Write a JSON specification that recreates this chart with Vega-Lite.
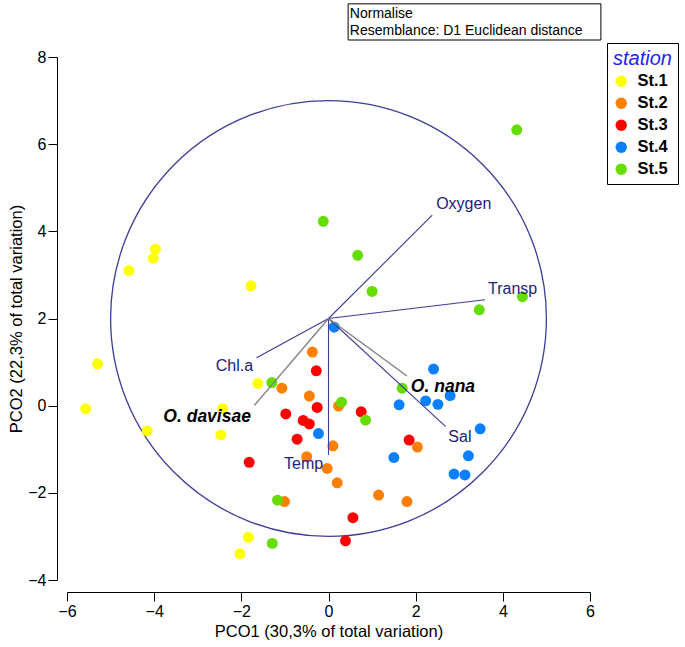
{
  "$schema": "https://vega.github.io/schema/vega-lite/v6.json",
  "width": 523,
  "height": 523,
  "autosize": {"type": "none"},
  "padding": {"left": 67, "top": 57, "right": 95, "bottom": 67},
  "background": "white",
  "config": {"view": {"stroke": null}, "font": "Liberation Sans"},
  "datasets": {
    "pts": [
      {"station": "St.1", "x": -3.97, "y": 3.59}, {"station": "St.1", "x": -4.02, "y": 3.38}, {"station": "St.1", "x": -4.58, "y": 3.10}, {"station": "St.1", "x": -1.78, "y": 2.75}, {"station": "St.1", "x": -5.30, "y": 0.96}, {"station": "St.1", "x": -5.57, "y": -0.07}, {"station": "St.1", "x": -4.16, "y": -0.58}, {"station": "St.1", "x": -1.62, "y": 0.51}, {"station": "St.1", "x": -2.43, "y": -0.07}, {"station": "St.1", "x": -2.47, "y": -0.67}, {"station": "St.1", "x": -1.84, "y": -3.02}, {"station": "St.1", "x": -2.03, "y": -3.40},
      {"station": "St.2", "x": -0.37, "y": 1.23}, {"station": "St.2", "x": -1.07, "y": 0.40}, {"station": "St.2", "x": -0.44, "y": 0.22}, {"station": "St.2", "x": 0.23, "y": -0.01}, {"station": "St.2", "x": 0.10, "y": -0.92}, {"station": "St.2", "x": -0.50, "y": -1.17}, {"station": "St.2", "x": -0.03, "y": -1.44}, {"station": "St.2", "x": 0.20, "y": -1.77}, {"station": "St.2", "x": -1.01, "y": -2.20}, {"station": "St.2", "x": 1.15, "y": -2.05}, {"station": "St.2", "x": 1.80, "y": -2.20}, {"station": "St.2", "x": 2.04, "y": -0.95},
      {"station": "St.3", "x": -0.28, "y": 0.80}, {"station": "St.3", "x": -0.26, "y": -0.04}, {"station": "St.3", "x": -0.98, "y": -0.19}, {"station": "St.3", "x": 0.75, "y": -0.14}, {"station": "St.3", "x": -0.58, "y": -0.34}, {"station": "St.3", "x": -0.44, "y": -0.42}, {"station": "St.3", "x": -0.72, "y": -0.77}, {"station": "St.3", "x": -1.82, "y": -1.30}, {"station": "St.3", "x": 1.85, "y": -0.79}, {"station": "St.3", "x": 0.56, "y": -2.57}, {"station": "St.3", "x": 0.39, "y": -3.10},
      {"station": "St.4", "x": 0.13, "y": 1.80}, {"station": "St.4", "x": -0.23, "y": -0.64}, {"station": "St.4", "x": 2.41, "y": 0.84}, {"station": "St.4", "x": 1.62, "y": 0.02}, {"station": "St.4", "x": 2.23, "y": 0.11}, {"station": "St.4", "x": 2.51, "y": 0.03}, {"station": "St.4", "x": 2.79, "y": 0.23}, {"station": "St.4", "x": 3.48, "y": -0.53}, {"station": "St.4", "x": 1.50, "y": -1.19}, {"station": "St.4", "x": 3.21, "y": -1.15}, {"station": "St.4", "x": 2.88, "y": -1.57}, {"station": "St.4", "x": 3.13, "y": -1.59},
      {"station": "St.5", "x": 4.32, "y": 6.33}, {"station": "St.5", "x": -0.12, "y": 4.23}, {"station": "St.5", "x": 0.67, "y": 3.45}, {"station": "St.5", "x": 1.00, "y": 2.62}, {"station": "St.5", "x": 3.46, "y": 2.20}, {"station": "St.5", "x": 4.45, "y": 2.50}, {"station": "St.5", "x": -1.30, "y": 0.53}, {"station": "St.5", "x": 0.30, "y": 0.08}, {"station": "St.5", "x": 0.85, "y": -0.33}, {"station": "St.5", "x": 1.69, "y": 0.40}, {"station": "St.5", "x": -1.17, "y": -2.17}, {"station": "St.5", "x": -1.29, "y": -3.16}
    ],
    "env": [
      {"name": "Oxygen", "x0": 0, "y0": 2, "x": 2.38, "y": 4.37, "lx": 2.47, "ly": 4.62, "align": "left"},
      {"name": "Transp", "x0": 0, "y0": 2, "x": 3.59, "y": 2.43, "lx": 3.66, "ly": 2.67, "align": "left"},
      {"name": "Chl.a", "x0": 0, "y0": 2, "x": -1.65, "y": 1.10, "lx": -1.73, "ly": 0.90, "align": "right"},
      {"name": "Temp", "x0": 0, "y0": 2, "x": 0.0, "y": -1.13, "lx": -0.57, "ly": -1.34, "align": "center"},
      {"name": "Sal", "x0": 0, "y0": 2, "x": 2.69, "y": -0.48, "lx": 2.75, "ly": -0.71, "align": "left"}
    ],
    "sp": [
      {"name": "O. davisae", "x0": 0, "y0": 2, "x": -1.70, "y": 0.01, "lx": -1.78, "ly": -0.25, "align": "right"},
      {"name": "O. nana", "x0": 0, "y0": 2, "x": 1.80, "y": 0.68, "lx": 1.89, "ly": 0.42, "align": "left"}
    ],
    "note": [
      {"x1": 0.45, "x2": 6.25, "y1": 9.22, "y2": 8.39}
    ],
    "notetext": [
      {"t": "Normalise", "x": 0.49, "y": 8.99},
      {"t": "Resemblance: D1 Euclidean distance", "x": 0.49, "y": 8.60}
    ]
  },
  "layer": [
    {
      "data": {"values": [{"cx": 0, "cy": 2}]},
      "mark": {"type": "point", "shape": "circle", "filled": false, "size": 189922, "stroke": "#3c3c99", "strokeWidth": 1.3, "opacity": 1, "clip": false},
      "encoding": {
        "x": {"field": "cx", "type": "quantitative", "scale": {"domain": [-6, 6], "nice": false, "zero": false},
          "axis": {"title": "PCO1 (30,3% of total variation)", "values": [-6, -4, -2, 0, 2, 4, 6], "grid": false, "offset": 12, "domainColor": "black", "tickColor": "black", "tickSize": 9, "labelFontSize": 16, "labelColor": "black", "labelPadding": 2, "titleFontSize": 16.5, "titleFontWeight": "normal", "titleColor": "black", "titlePadding": 4, "labelFlush": false}},
        "y": {"field": "cy", "type": "quantitative", "scale": {"domain": [-4, 8], "nice": false, "zero": false},
          "axis": {"title": "PCO2 (22,3% of total variation)", "values": [-4, -2, 0, 2, 4, 6, 8], "grid": false, "offset": 10, "domainColor": "black", "tickColor": "black", "tickSize": 9, "labelFontSize": 16, "labelColor": "black", "labelPadding": 2, "titleFontSize": 16.5, "titleFontWeight": "normal", "titleColor": "black", "titlePadding": 3, "labelFlush": false}}
      }
    },
    {
      "data": {"name": "pts"},
      "mark": {"type": "circle", "size": 120, "opacity": 1},
      "encoding": {
        "x": {"field": "x", "type": "quantitative"},
        "y": {"field": "y", "type": "quantitative"},
        "color": {"field": "station", "type": "nominal",
          "scale": {"domain": ["St.1", "St.2", "St.3", "St.4", "St.5"], "range": ["#ffff00", "#ff8000", "#ff0000", "#0a80ff", "#66dd00"]},
          "legend": {"title": "station", "orient": "none", "legendX": 540, "legendY": -14, "strokeColor": "black", "fillColor": "white", "padding": 6,
            "titleFontSize": 20, "titleFontStyle": "italic", "titleFontWeight": "normal", "titleColor": "#2424f0", "titlePadding": 4,
            "labelFontSize": 16.5, "labelFontWeight": "bold", "labelColor": "black", "symbolSize": 130, "symbolType": "circle", "symbolStrokeWidth": 0, "rowPadding": 5, "labelOffset": 8}}
      }
    },
    {
      "data": {"name": "env"},
      "mark": {"type": "rule", "color": "#3c3c99", "strokeWidth": 1.1},
      "encoding": {
        "x": {"field": "x0", "type": "quantitative"},
        "y": {"field": "y0", "type": "quantitative"},
        "x2": {"field": "x"},
        "y2": {"field": "y"}
      }
    },
    {
      "data": {"name": "sp"},
      "mark": {"type": "rule", "color": "#808080", "strokeWidth": 1.3},
      "encoding": {
        "x": {"field": "x0", "type": "quantitative"},
        "y": {"field": "y0", "type": "quantitative"},
        "x2": {"field": "x"},
        "y2": {"field": "y"}
      }
    },
    {
      "data": {"name": "env"},
      "transform": [{"filter": "datum.align == 'left'"}],
      "mark": {"type": "text", "color": "#22227a", "fontSize": 16, "baseline": "middle", "align": "left"},
      "encoding": {
        "x": {"field": "lx", "type": "quantitative"},
        "y": {"field": "ly", "type": "quantitative"},
        "text": {"field": "name"}
      }
    },
    {
      "data": {"name": "env"},
      "transform": [{"filter": "datum.align == 'right'"}],
      "mark": {"type": "text", "color": "#22227a", "fontSize": 16, "baseline": "middle", "align": "right"},
      "encoding": {
        "x": {"field": "lx", "type": "quantitative"},
        "y": {"field": "ly", "type": "quantitative"},
        "text": {"field": "name"}
      }
    },
    {
      "data": {"name": "env"},
      "transform": [{"filter": "datum.align == 'center'"}],
      "mark": {"type": "text", "color": "#22227a", "fontSize": 16, "baseline": "middle", "align": "center"},
      "encoding": {
        "x": {"field": "lx", "type": "quantitative"},
        "y": {"field": "ly", "type": "quantitative"},
        "text": {"field": "name"}
      }
    },
    {
      "data": {"name": "sp"},
      "transform": [{"filter": "datum.align == 'left'"}],
      "mark": {"type": "text", "color": "black", "fontSize": 17.5, "fontWeight": "bold", "fontStyle": "italic", "baseline": "middle", "align": "left"},
      "encoding": {
        "x": {"field": "lx", "type": "quantitative"},
        "y": {"field": "ly", "type": "quantitative"},
        "text": {"field": "name"}
      }
    },
    {
      "data": {"name": "sp"},
      "transform": [{"filter": "datum.align == 'right'"}],
      "mark": {"type": "text", "color": "black", "fontSize": 17.5, "fontWeight": "bold", "fontStyle": "italic", "baseline": "middle", "align": "right"},
      "encoding": {
        "x": {"field": "lx", "type": "quantitative"},
        "y": {"field": "ly", "type": "quantitative"},
        "text": {"field": "name"}
      }
    },
    {
      "data": {"name": "note"},
      "mark": {"type": "rect", "fill": "white", "stroke": "black", "strokeWidth": 1, "clip": false},
      "encoding": {
        "x": {"field": "x1", "type": "quantitative"},
        "x2": {"field": "x2"},
        "y": {"field": "y1", "type": "quantitative"},
        "y2": {"field": "y2"}
      }
    },
    {
      "data": {"name": "notetext"},
      "mark": {"type": "text", "align": "left", "baseline": "middle", "fontSize": 14, "color": "black", "clip": false},
      "encoding": {
        "x": {"field": "x", "type": "quantitative"},
        "y": {"field": "y", "type": "quantitative"},
        "text": {"field": "t"}
      }
    }
  ]
}
